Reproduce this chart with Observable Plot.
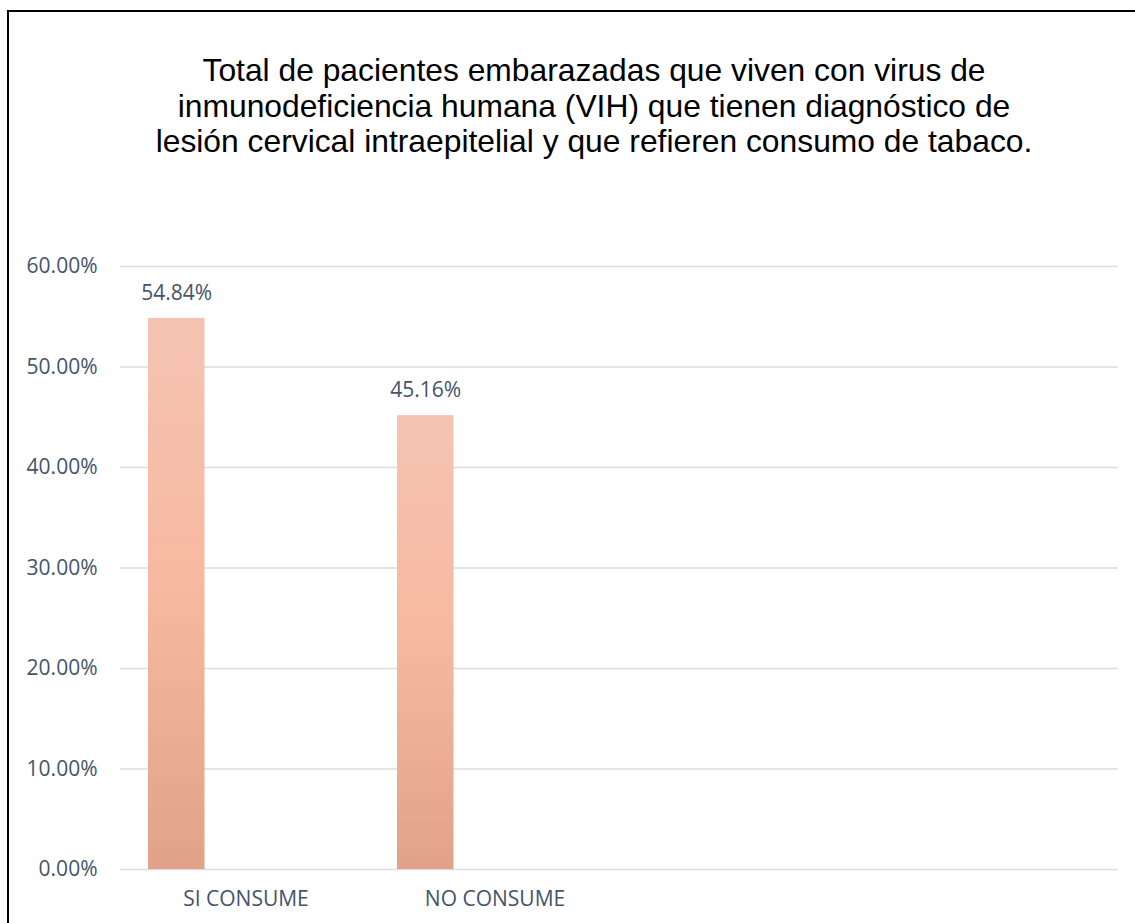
<!DOCTYPE html>
<html><head><meta charset="utf-8">
<script src="https://cdn.jsdelivr.net/npm/d3@7"></script>
<script src="https://cdn.jsdelivr.net/npm/@observablehq/plot@0.6"></script>
<style>
html,body{margin:0;padding:0;overflow:hidden;background:#fff;width:1135px;height:923px}
#frame{position:absolute;left:7px;top:10px;width:1300px;height:1100px;border-left:2px solid #000;border-top:2px solid #000;pointer-events:none}
#title{box-sizing:border-box;width:1135px;height:200px;padding-top:53px;padding-left:53px;text-align:center;font-family:"Liberation Sans",Arial,sans-serif;font-size:31.8px;line-height:35.5px;color:#000}
#chart svg{display:block}
</style></head><body>
<div id="frame"></div>
<div id="title">Total de pacientes embarazadas que viven con virus de<br>inmunodeficiencia humana (VIH) que tienen diagnóstico de<br>lesión cervical intraepitelial y que refieren consumo de tabaco.</div>
<div id="chart"></div>
<script>
// Data
const categoryKeys = ["c1", "c2", "c3", "c4"];
const categoryLabels = ["SI CONSUME", "NO CONSUME", "", ""];
const seriesValues = [0.5484, 0.4516];
const yTicks = [0, 0.1, 0.2, 0.3, 0.4, 0.5, 0.6];

const data = seriesValues.map((v, i) => ({cat: categoryKeys[i], value: v}));
const pct = d3.format(".2%");
const labelOf = k => categoryLabels[categoryKeys.indexOf(k)];
const textColor = "#44546a";

const chart = Plot.plot({
  width: 1135,
  height: 723,
  marginTop: 66,
  marginBottom: 54,
  marginLeft: 120,
  marginRight: 17,
  style: {fontFamily: "'Open Sans', sans-serif", fontSize: "21px", color: textColor, background: "transparent"},
  x: {domain: categoryKeys, padding: 0, axis: null, label: null},
  y: {domain: [0, 0.6], axis: null, label: null},
  marks: [
    Plot.ruleY(yTicks, {stroke: "#d9dde4", strokeWidth: 1.6}),
    Plot.barY(data, {x: "cat", y: "value", fill: "url(#barGrad)", insetLeft: 27, insetRight: 165.5}),
    Plot.text(data, {x: "cat", y: "value", text: d => pct(d.value), dy: -25, dx: -69.25, fill: textColor, fontSize: 21}),
    Plot.axisY(yTicks, {tickSize: 0, tickPadding: 23, tickFormat: pct, fill: textColor, fontSize: 21, label: null}),
    Plot.axisX(categoryKeys, {tickSize: 0, tickPadding: 22, tickFormat: labelOf, fill: textColor, fontSize: 21, label: null})
  ]
});

const svg = d3.select(chart);
const defs = svg.insert("defs", ":first-child");
const grad = defs.append("linearGradient").attr("id", "barGrad")
  .attr("x1", 0).attr("y1", 0).attr("x2", 0).attr("y2", 1);
grad.append("stop").attr("offset", "0%").attr("stop-color", "#f4c4b2");
grad.append("stop").attr("offset", "50%").attr("stop-color", "#f7b8a0");
grad.append("stop").attr("offset", "100%").attr("stop-color", "#e2a28a");

document.getElementById("chart").appendChild(chart);
</script>
</body></html>
